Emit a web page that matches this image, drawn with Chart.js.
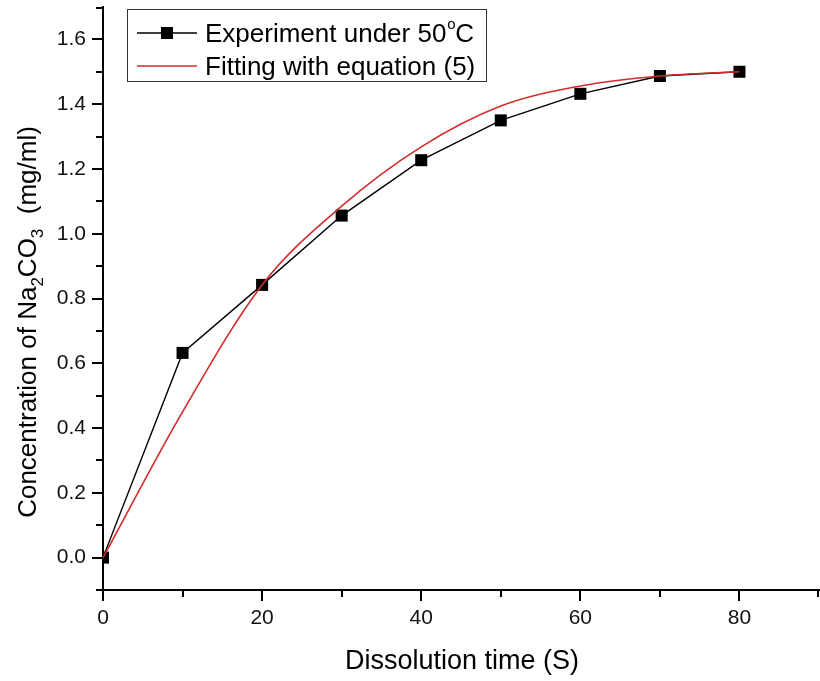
<!DOCTYPE html>
<html>
<head>
<meta charset="utf-8">
<script src="https://cdn.jsdelivr.net/npm/chart.js@4/dist/chart.umd.min.js"></script>
<style>
  html, body { margin: 0; padding: 0; background: #fff; }
  #wrap { width: 820px; height: 681px; position: relative; }
</style>
</head>
<body>
<div id="wrap"><canvas id="chart" width="820" height="681"></canvas></div>
<script>
// dissolution time (s)
const times = [0, 10, 20, 30, 40, 50, 60, 70, 80];
// measured concentration at 50 C (mg/ml)
const measured = [0, 0.632, 0.842, 1.056, 1.227, 1.350, 1.432, 1.487, 1.500];
// fitted curve from equation (5)
const fitted = [0, 0.450, 0.842, 1.085, 1.268, 1.394, 1.456, 1.487, 1.500];

const xRange = [0, 90];
const yRange = [-0.1, 1.7];

const FONT = 'Arial, "Liberation Sans", sans-serif';
const RED = '#d42b2b';

// draws outward major/minor ticks, axis titles and the boxed legend
const decorations = {
    id: 'decorations',
    afterDraw(chart) {
        const ctx = chart.ctx;
        const xs = chart.scales.x, ys = chart.scales.y;
        const area = chart.chartArea;
        ctx.save();
        ctx.strokeStyle = '#000';
        ctx.lineWidth = 2;

        // x ticks
        for (let v = xRange[0]; v <= xRange[1]; v += 10) {
            const px = Math.min(Math.round(xs.getPixelForValue(v)), 818);
            const len = v % 20 === 0 ? 11 : 7;
            ctx.beginPath();
            ctx.moveTo(px, area.bottom);
            ctx.lineTo(px, area.bottom + len);
            ctx.stroke();
        }
        // y ticks
        for (let i = -1; i <= 17; i++) {
            const py = Math.max(Math.round(ys.getPixelForValue(i / 10)), 8);
            const len = i % 2 === 0 ? 11 : 7;
            ctx.beginPath();
            ctx.moveTo(area.left, py);
            ctx.lineTo(area.left - len, py);
            ctx.stroke();
        }

        ctx.fillStyle = '#000';
        ctx.textBaseline = 'alphabetic';

        // x title
        ctx.font = '27px ' + FONT;
        ctx.textAlign = 'center';
        ctx.fillText('Dissolution time (S)', 462, 669);

        // y title with subscripts, rotated
        const parts = [
            ['Concentration of Na', false],
            ['2', true],
            ['CO', false],
            ['3', true],
            ['  (mg/ml)', false]
        ];
        const big = '26px ' + FONT, small = '17px ' + FONT;
        let total = 0;
        parts.forEach(([t, sub]) => {
            ctx.font = sub ? small : big;
            total += ctx.measureText(t).width;
        });
        ctx.translate(36, 322);
        ctx.rotate(-Math.PI / 2);
        ctx.textAlign = 'left';
        let cx = -total / 2;
        parts.forEach(([t, sub]) => {
            ctx.font = sub ? small : big;
            ctx.fillText(t, cx, sub ? 7 : 0);
            cx += ctx.measureText(t).width;
        });
        ctx.setTransform(1, 0, 0, 1, 0, 0);

        // legend box
        ctx.lineWidth = 1;
        ctx.strokeStyle = '#333';
        ctx.strokeRect(127.5, 9.5, 359, 72);

        // experiment entry
        ctx.strokeStyle = '#000';
        ctx.lineWidth = 1.5;
        ctx.beginPath();
        ctx.moveTo(137, 33);
        ctx.lineTo(197, 33);
        ctx.stroke();
        ctx.fillRect(161, 27, 12, 12);
        ctx.font = '26px ' + FONT;
        ctx.textAlign = 'left';
        ctx.fillText('Experiment under 50', 205, 42);
        const w = ctx.measureText('Experiment under 50').width;
        ctx.font = '15px ' + FONT;
        ctx.fillText('o', 205 + w + 1, 29);
        ctx.font = '26px ' + FONT;
        ctx.fillText('C', 205 + w + 9, 42);

        // fitting entry
        ctx.strokeStyle = RED;
        ctx.beginPath();
        ctx.moveTo(137, 66);
        ctx.lineTo(197, 66);
        ctx.stroke();
        ctx.fillText('Fitting with equation (5)', 205, 75);

        ctx.restore();
    }
};

new Chart(document.getElementById('chart'), {
    type: 'line',
    data: {
        datasets: [
            {
                label: 'Fitting with equation (5)',
                data: times.map((t, i) => ({ x: t, y: fitted[i] })),
                borderColor: RED,
                borderWidth: 1.6,
                pointRadius: 0,
                cubicInterpolationMode: 'monotone',
                fill: false
            },
            {
                label: 'Experiment under 50°C',
                data: times.map((t, i) => ({ x: t, y: measured[i] })),
                borderColor: '#000',
                backgroundColor: '#000',
                borderWidth: 1.4,
                pointStyle: 'rect',
                pointRadius: 8.5,
                pointBorderWidth: 0,
                tension: 0,
                fill: false
            }
        ]
    },
    options: {
        responsive: false,
        animation: false,
        devicePixelRatio: 1,
        layout: { autoPadding: false, padding: { top: 7, right: 1, left: 0, bottom: 0 } },
        plugins: { legend: { display: false }, tooltip: { enabled: false } },
        scales: {
            x: {
                type: 'linear',
                min: xRange[0],
                max: xRange[1],
                grid: { display: false, drawTicks: false },
                border: { display: true, color: '#000', width: 2 },
                ticks: {
                    stepSize: 10,
                    padding: 16,
                    color: '#111',
                    font: { family: FONT, size: 21 },
                    maxRotation: 0,
                    autoSkip: false,
                    callback: v => (v % 20 === 0 ? String(v) : '')
                },
                afterFit: s => {
                    s.height = 91;
                    s.paddingLeft = 0;
                    s.paddingRight = 0;
                }
            },
            y: {
                min: yRange[0],
                max: yRange[1],
                grid: { display: false, drawTicks: false },
                border: { display: true, color: '#000', width: 2 },
                ticks: {
                    stepSize: 0.1,
                    padding: 17,
                    color: '#111',
                    font: { family: FONT, size: 21 },
                    autoSkip: false,
                    callback: v => {
                        const k = Math.round(v * 10);
                        return k >= 0 && k % 2 === 0 ? (k / 10).toFixed(1) : '';
                    }
                },
                afterFit: s => {
                    s.width = 103;
                    s.paddingTop = 0;
                    s.paddingBottom = 0;
                }
            }
        }
    },
    plugins: [decorations]
});
</script>
</body>
</html>
